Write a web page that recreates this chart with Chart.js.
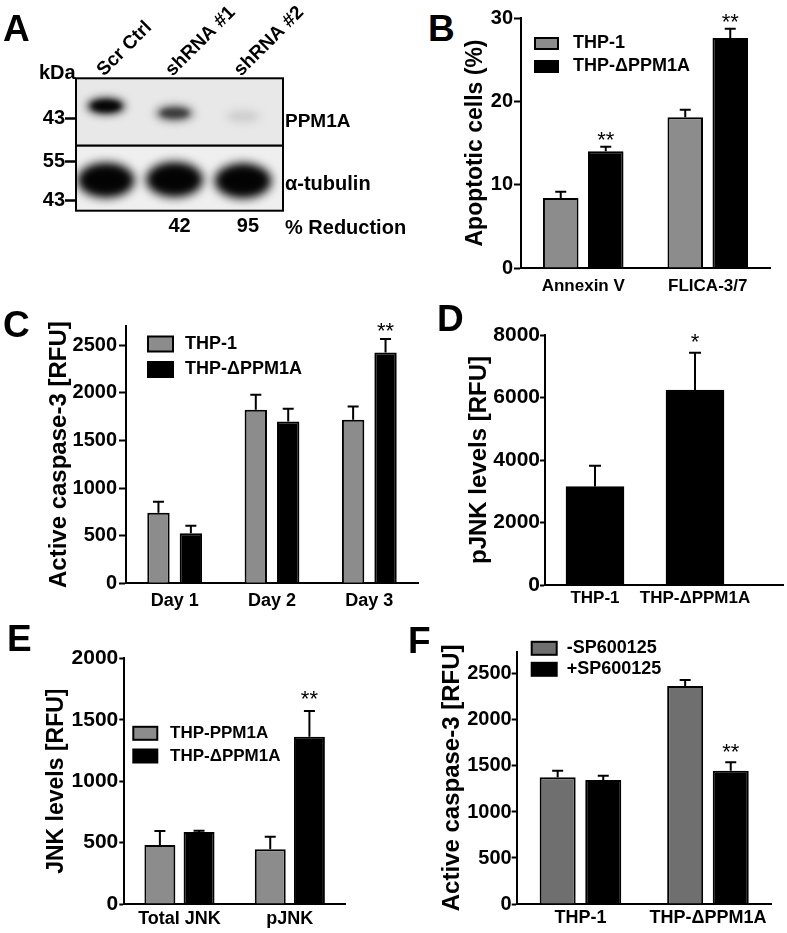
<!DOCTYPE html>
<html><head><meta charset="utf-8">
<script src="https://cdn.jsdelivr.net/npm/chart.js@4.4.1/dist/chart.umd.min.js"></script>
<style>
html,body{margin:0;padding:0;background:#fff;}
#fig{position:relative;width:787px;height:933px;overflow:hidden;font-family:'Liberation Sans',Arial,sans-serif;}
#fig canvas{position:absolute;}
.lbl{position:absolute;font-weight:bold;color:#000;white-space:nowrap;line-height:1;}
</style></head><body><div id="fig"></div>
<script>
// ---------------- DATA ----------------
// Panel A (western blot)
const blotLanes = ['Scr Ctrl', 'shRNA #1', 'shRNA #2'];
const ppm1aSignal = [1.0, 0.58, 0.06];
const ppm1aBandKDa = [46.7, 44.5, 43.5];
const tubulinSignal = [1.0, 1.0, 1.0];
const tubulinBandKDa = [49.4, 49.6, 49.2];
const upperMarkers = [43];
const lowerMarkers = [55, 43];
const reduction = ['', '42', '95'];

// Panel B
const bCats = ['Annexin V', 'FLICA-3/7'];
const bSeries = ['THP-1', 'THP-ΔPPM1A'];
const bTHP1 = [8.4, 18.1];
const bTHP1Err = [0.75, 0.9];
const bDelta = [14.0, 27.6];
const bDeltaErr = [0.55, 1.1];
const bSig = ['**', '**'];
const bTicks = [0, 10, 20, 30];

// Panel C
const cCats = ['Day 1', 'Day 2', 'Day 3'];
const cSeries = ['THP-1', 'THP-ΔPPM1A'];
const cTHP1 = [740, 1820, 1715];
const cTHP1Err = [117, 158, 140];
const cDelta = [525, 1697, 2422];
const cDeltaErr = [80, 134, 141];
const cSig = ['', '', '**'];
const cTicks = [0, 500, 1000, 1500, 2000, 2500];

// Panel D
const dCats = ['THP-1', 'THP-ΔPPM1A'];
const dVals = [3150, 6240];
const dErr = [670, 1195];
const dSig = ['', '*'];
const dTicks = [0, 2000, 4000, 6000, 8000];

// Panel E
const eCats = ['Total JNK', 'pJNK'];
const eSeries = ['THP-PPM1A', 'THP-ΔPPM1A'];
const ePPM1A = [480, 445];
const ePPM1AErr = [114, 103];
const eDelta = [586, 1362];
const eDeltaErr = [10, 209];
const eSig = ['', '**'];
const eTicks = [0, 500, 1000, 1500, 2000];

// Panel F
const fCats = ['THP-1', 'THP-ΔPPM1A'];
const fSeries = ['-SP600125', '+SP600125'];
const fMinus = [1377, 2370];
const fMinusErr = [72, 65];
const fPlus = [1348, 1449];
const fPlusErr = [47, 91];
const fSig = ['', '**'];
const fTicks = [0, 500, 1000, 1500, 2000, 2500];

// ---------------- SETUP ----------------
const FONT = "'Liberation Sans', Arial, sans-serif";
Chart.defaults.font.family = FONT;
Chart.defaults.color = '#000';
Chart.defaults.animation = false;
Chart.defaults.plugins.legend.display = false;
Chart.defaults.plugins.tooltip.enabled = false;
const GRAY = '#8c8c8c';
const DARKGRAY = '#6f6f6f';
const fig = document.getElementById('fig');

const errorBars = {
  id: 'errorBars',
  afterDatasetsDraw(chart, args, o) {
    if (!o || !o.on) return;
    const ctx = chart.ctx, ys = chart.scales.y;
    ctx.save();
    chart.data.datasets.forEach((ds, i) => {
      if (!ds.errors) return;
      const meta = chart.getDatasetMeta(i);
      meta.data.forEach((bar, j) => {
        const p = meta.controller.getParsed(j);
        const yTop = ys.getPixelForValue(p.y + ds.errors[j]);
        ctx.strokeStyle = '#000'; ctx.lineWidth = 2;
        ctx.beginPath();
        ctx.moveTo(bar.x, bar.y); ctx.lineTo(bar.x, yTop);
        ctx.moveTo(bar.x - o.cap, yTop); ctx.lineTo(bar.x + o.cap, yTop);
        ctx.stroke();
        const s = ds.sig && ds.sig[j];
        if (s) {
          ctx.fillStyle = '#000';
          ctx.font = o.starSize + 'px ' + FONT;
          ctx.textAlign = 'center'; ctx.textBaseline = 'alphabetic';
          ctx.fillText(s, bar.x, yTop - o.starGap);
        }
      });
    });
    ctx.restore();
  }
};

const boxLegend = {
  id: 'boxLegend',
  afterDraw(chart, args, o) {
    if (!o || !o.on) return;
    const ctx = chart.ctx;
    ctx.save();
    chart.data.datasets.forEach((ds, i) => {
      const cy = o.y - o.oy + i * o.row;
      const x = o.x - o.ox;
      ctx.fillStyle = ds.backgroundColor;
      ctx.fillRect(x, cy - o.h / 2, o.w, o.h);
      ctx.lineWidth = 2; ctx.strokeStyle = '#000';
      ctx.strokeRect(x, cy - o.h / 2, o.w, o.h);
      ctx.fillStyle = '#000';
      ctx.font = 'bold ' + o.size + 'px ' + FONT;
      ctx.textAlign = 'left'; ctx.textBaseline = 'middle';
      ctx.fillText(ds.label, o.tx - o.ox, cy);
    });
    ctx.restore();
  }
};

const blot = {
  id: 'blot',
  beforeDatasetsDraw(chart, args, o) {
    if (!o || !o.on) return;
    const ctx = chart.ctx, a = chart.chartArea;
    ctx.save();
    ctx.fillStyle = o.bg;
    ctx.fillRect(a.left, a.top, a.right - a.left, a.bottom - a.top);
    ctx.beginPath(); ctx.rect(a.left, a.top, a.right - a.left, a.bottom - a.top); ctx.clip();
    const ds = chart.data.datasets[0];
    const meta = chart.getDatasetMeta(0);
    meta.data.forEach((pt, j) => {
      const s = ds.signal[j];
      ctx.filter = 'blur(' + o.blur + 'px)';
      ctx.fillStyle = 'rgba(25,25,25,' + s + ')';
      ctx.beginPath(); ctx.ellipse(pt.x, pt.y, o.rx, o.ry, 0, 0, Math.PI * 2); ctx.fill();
      ctx.filter = 'blur(' + (o.blur * 0.6) + 'px)';
      ctx.fillStyle = 'rgba(0,0,0,' + (s * 0.85) + ')';
      ctx.beginPath(); ctx.ellipse(pt.x, pt.y, o.rx * 0.75, o.ry * 0.65, 0, 0, Math.PI * 2); ctx.fill();
    });
    ctx.filter = 'none';
    ctx.restore();
  },
  afterDraw(chart, args, o) {
    if (!o || !o.on) return;
    const ctx = chart.ctx, a = chart.chartArea;
    ctx.save();
    ctx.strokeStyle = '#000'; ctx.lineWidth = 2;
    ctx.strokeRect(a.left, a.top, a.right - a.left, a.bottom - a.top);
    if (o.lanes) {
      // rotated lane labels, placed on the library's x scale
      const xs = chart.scales.x;
      ctx.fillStyle = '#000';
      ctx.font = 'bold ' + o.laneSize + 'px ' + FONT;
      ctx.textAlign = 'left'; ctx.textBaseline = 'alphabetic';
      o.lanes.forEach((t, i) => {
        ctx.save();
        ctx.translate(xs.getPixelForValue(i + 1) + o.laneDx, a.top - o.laneDy);
        ctx.rotate(-o.laneAngle * Math.PI / 180);
        ctx.fillText(t, 0, 0);
        ctx.restore();
      });
    }
    ctx.restore();
  }
};

function mk(box, area, cfg, xTop) {
  const c = document.createElement('canvas');
  c.width = box.w; c.height = box.h;
  c.style.left = box.l + 'px'; c.style.top = box.t + 'px';
  c.style.width = box.w + 'px'; c.style.height = box.h + 'px';
  fig.appendChild(c);
  const o = cfg.options;
  o.responsive = false;
  o.maintainAspectRatio = false;
  o.layout = { padding: {
    left: 0,
    right: box.l + box.w - area.r,
    top: xTop ? 0 : area.t - box.t,
    bottom: xTop ? box.t + box.h - area.b : 0
  } };
  o.scales.x.afterFit = s => {
    s.height = xTop ? area.t - box.t : box.t + box.h - area.b;
    s.paddingLeft = 0; s.paddingRight = 0;
  };
  o.scales.y.afterFit = s => {
    s.width = area.l - box.l;
    s.paddingTop = 0; s.paddingBottom = 0;
  };
  cfg.plugins = [errorBars, boxLegend, blot];
  return new Chart(c, cfg);
}

function yAxis(min, max, ticks, title, tSize, fSize, tl, pad) {
  const ax = {
    type: 'linear', min: min, max: max,
    afterBuildTicks: s => { s.ticks = ticks.map(v => ({ value: v })); },
    ticks: { font: { size: fSize, weight: 'bold' }, padding: pad, color: '#000', callback: v => String(v) },
    grid: { display: true, drawOnChartArea: false, drawTicks: true, tickLength: tl, tickWidth: 2, tickColor: '#000' },
    border: { display: true, color: '#000', width: 2 }
  };
  if (title) ax.title = { display: true, text: title, color: '#000', font: { size: tSize, weight: 'bold' }, padding: { top: 0, bottom: 0 } };
  return ax;
}
function xCat(size, pad) {
  return {
    type: 'category', offset: true,
    grid: { display: false, drawTicks: false },
    border: { display: true, color: '#000', width: 2 },
    ticks: { font: { size: size, weight: 'bold' }, padding: pad, autoSkip: false, maxRotation: 0, minRotation: 0, color: '#000' }
  };
}
function barDs(label, data, errors, sig, color, cp, bp) {
  return { label: label, data: data, errors: errors, sig: sig, backgroundColor: color,
    borderColor: '#000', borderWidth: 2, categoryPercentage: cp, barPercentage: bp };
}
function legendOpts(box, x, y, row, w, h, tx, size) {
  return { on: true, ox: box.l, oy: box.t, x: x, y: y, row: row, w: w, h: h, tx: tx, size: size };
}

// ---------------- PANEL A ----------------
const laneMin = 0.562, laneMax = 3.584;
(function () {
  const boxU = { l: 0, t: 0, w: 420, h: 150 };
  const areaU = { l: 76, t: 78.3, r: 283, b: 145.7 };
  mk(boxU, areaU, {
    type: 'scatter',
    data: { datasets: [{ label: 'PPM1A', data: ppm1aBandKDa.map((k, i) => ({ x: i + 1, y: k })), signal: ppm1aSignal, pointRadius: 0 }] },
    options: {
      plugins: { blot: { on: true, bg: '#e8e8e8', rx: 19, ry: 8, blur: 4,
        lanes: blotLanes, laneSize: 19, laneDx: -2, laneDy: 1.5, laneAngle: 45 } },
      scales: {
        x: { type: 'linear', position: 'top', min: laneMin, max: laneMax, offset: false,
          afterBuildTicks: s => { s.ticks = blotLanes.map((l, i) => ({ value: i + 1 })); },
          grid: { display: false, drawTicks: false }, border: { display: false },
          ticks: { display: false } },
        y: { type: 'linear', min: 34.5, max: 55.2,
          afterBuildTicks: s => { s.ticks = upperMarkers.map(v => ({ value: v })); },
          grid: { display: true, drawOnChartArea: false, drawTicks: true, tickLength: 11, tickWidth: 2.5, tickColor: '#000' },
          border: { display: false },
          ticks: { font: { size: 20, weight: 'bold' }, padding: 0, color: '#000', callback: v => String(v) } }
      }
    }
  }, true);

  const boxL = { l: 0, t: 140, w: 420, h: 110 };
  const areaL = { l: 76, t: 145.7, r: 283, b: 210.7 };
  mk(boxL, areaL, {
    type: 'scatter',
    data: { datasets: [{ label: 'α-tubulin', data: tubulinBandKDa.map((k, i) => ({ x: i + 1, y: k })), signal: tubulinSignal, pointRadius: 0 }] },
    options: {
      plugins: { blot: { on: true, bg: '#efefef', rx: 29, ry: 18, blur: 5 } },
      scales: {
        x: { type: 'linear', position: 'bottom', min: laneMin, max: laneMax, offset: false,
          afterBuildTicks: s => { s.ticks = reduction.map((r, i) => ({ value: i + 1 })); },
          grid: { display: false, drawTicks: false }, border: { display: false },
          ticks: { font: { size: 20, weight: 'bold' }, padding: 4, labelOffset: 5, autoSkip: false, minRotation: 0, maxRotation: 0, color: '#000',
            callback: (v, i) => reduction[i] } },
        y: { type: 'linear', min: 40, max: 60,
          afterBuildTicks: s => { s.ticks = lowerMarkers.map(v => ({ value: v })); },
          grid: { display: true, drawOnChartArea: false, drawTicks: true, tickLength: 11, tickWidth: 2.5, tickColor: '#000' },
          border: { display: false },
          ticks: { font: { size: 20, weight: 'bold' }, padding: 0, color: '#000', callback: v => String(v) } }
      }
    }
  }, false);
})();

// ---------------- PANEL B ----------------
(function () {
  const box = { l: 462, t: 0, w: 325, h: 305 };
  const area = { l: 521, t: 18, r: 770, b: 268 };
  mk(box, area, {
    type: 'bar',
    data: { labels: bCats, datasets: [
      barDs(bSeries[0], bTHP1, bTHP1Err, null, GRAY, 0.723, 0.79),
      barDs(bSeries[1], bDelta, bDeltaErr, bSig, '#000', 0.723, 0.79)
    ] },
    options: {
      plugins: {
        errorBars: { on: true, cap: 5.5, starSize: 22, starGap: 0 },
        boxLegend: legendOpts(box, 535, 43.5, 23, 23, 11, 573, 18)
      },
      scales: { x: xCat(17, 8), y: yAxis(0, 30, bTicks, 'Apoptotic cells (%)', 23, 20, 7, 1) }
    }
  });
})();

// ---------------- PANEL C ----------------
(function () {
  const box = { l: 45, t: 300, w: 375, h: 310 };
  const area = { l: 126, t: 326, r: 418, b: 583.3 };
  mk(box, area, {
    type: 'bar',
    data: { labels: cCats, datasets: [
      barDs(cSeries[0], cTHP1, cTHP1Err, null, GRAY, 0.666, 0.69),
      barDs(cSeries[1], cDelta, cDeltaErr, cSig, '#000', 0.666, 0.69)
    ] },
    options: {
      plugins: {
        errorBars: { on: true, cap: 5.5, starSize: 22, starGap: 1.5 },
        boxLegend: legendOpts(box, 148, 344, 25.5, 25, 15, 185, 18)
      },
      scales: { x: xCat(18, 7), y: yAxis(0, 2700, cTicks, 'Active caspase-3 [RFU]', 24, 20, 7, 2) }
    }
  });
})();

// ---------------- PANEL D ----------------
(function () {
  const box = { l: 465, t: 300, w: 322, h: 310 };
  const area = { l: 545, t: 335, r: 783, b: 585 };
  mk(box, area, {
    type: 'bar',
    data: { datasets: [{
      label: 'pJNK', data: dVals.map((v, i) => ({ x: i + 1, y: v })), errors: dErr, sig: dSig,
      backgroundColor: '#000', borderColor: '#000', borderWidth: 2, barThickness: 58
    }] },
    options: {
      plugins: { errorBars: { on: true, cap: 6, starSize: 22, starGap: 3.5 } },
      scales: {
        x: { type: 'linear', min: 0.5, max: 2.88, offset: false,
          afterBuildTicks: s => { s.ticks = dCats.map((c, i) => ({ value: i + 1 })); },
          grid: { display: false, drawTicks: false },
          border: { display: true, color: '#000', width: 2 },
          ticks: { font: { size: 17, weight: 'bold' }, padding: 3, autoSkip: false, maxRotation: 0, minRotation: 0, color: '#000',
            callback: (v, i) => dCats[i] } },
        y: yAxis(0, 8000, dTicks, 'pJNK levels [RFU]', 24, 21, 5, 0)
      }
    }
  });
})();

// ---------------- PANEL E ----------------
(function () {
  const box = { l: 43, t: 615, w: 377, h: 318 };
  const area = { l: 124.3, t: 658.3, r: 345, b: 904 };
  mk(box, area, {
    type: 'bar',
    data: { labels: eCats, datasets: [
      barDs(eSeries[0], ePPM1A, ePPM1AErr, null, GRAY, 0.71, 0.79),
      barDs(eSeries[1], eDelta, eDeltaErr, eSig, '#000', 0.71, 0.79)
    ] },
    options: {
      plugins: {
        errorBars: { on: true, cap: 5.5, starSize: 22, starGap: 5 },
        boxLegend: legendOpts(box, 133.3, 733.3, 22.7, 24, 13, 170, 17)
      },
      scales: { x: xCat(18, 4.5), y: yAxis(0, 2000, eTicks, 'JNK levels [RFU]', 23, 21, 5, 1) }
    }
  });
})();

// ---------------- PANEL F ----------------
(function () {
  const box = { l: 438, t: 615, w: 349, h: 318 };
  const area = { l: 516.7, t: 651.7, r: 771.7, b: 904 };
  mk(box, area, {
    type: 'bar',
    data: { labels: fCats, datasets: [
      barDs(fSeries[0], fMinus, fMinusErr, null, DARKGRAY, 0.715, 0.79),
      barDs(fSeries[1], fPlus, fPlusErr, fSig, '#000', 0.715, 0.79)
    ] },
    options: {
      plugins: {
        errorBars: { on: true, cap: 5.5, starSize: 22, starGap: 3 },
        boxLegend: legendOpts(box, 531.7, 648.3, 21, 25, 13, 566.7, 18)
      },
      scales: { x: xCat(18, 3), y: yAxis(0, 2742, fTicks, 'Active caspase-3 [RFU]', 24, 20, 5, 0) }
    }
  });
})();

// ---------------- TEXT LABELS ----------------
function lbl(text, left, cy, size) {
  const d = document.createElement('div');
  d.className = 'lbl';
  d.textContent = text;
  d.style.fontSize = size + 'px';
  d.style.left = left + 'px';
  d.style.top = (cy - size / 2) + 'px';
  fig.appendChild(d);
  return d;
}
// panel letters (cap top given)
[['A', 3, 15], ['B', 428, 15], ['C', 3, 311], ['D', 437, 305], ['E', 7, 625], ['F', 408, 627]].forEach(p => {
  const d = document.createElement('div');
  d.className = 'lbl';
  d.textContent = p[0];
  d.style.fontSize = '37px';
  d.style.left = p[1] + 'px';
  d.style.top = (p[2] - 5) + 'px';
  fig.appendChild(d);
});
lbl('kDa', 39, 72, 20);
lbl('PPM1A', 285, 120, 19);
lbl('α-tubulin', 285, 183, 20);
lbl('% Reduction', 285, 227, 20);
</script></body></html>
